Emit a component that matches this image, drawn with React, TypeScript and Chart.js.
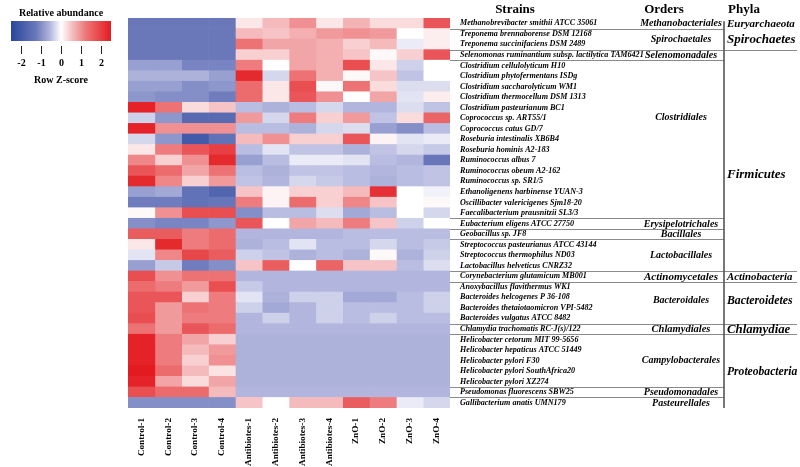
import React, { useEffect, useRef } from "react";
import { Chart, registerables } from "chart.js";
Chart.register(...registerables);

const columns = [
  "Control-1", "Control-2", "Control-3", "Control-4",
  "Antibiotes-1", "Antibiotes-2", "Antibiotes-3", "Antibiotes-4",
  "ZnO-1", "ZnO-2", "ZnO-3", "ZnO-4",
];

const strains = [
  "Methanobrevibacter smithii ATCC 35061",
  "Treponema brennaborense DSM 12168",
  "Treponema succinifaciens DSM 2489",
  "Selenomonas ruminantium subsp. lactilytica TAM6421",
  "Clostridium cellulolyticum H10",
  "Clostridium phytofermentans ISDg",
  "Clostridium saccharolyticum WM1",
  "Clostridium thermocellum DSM 1313",
  "Clostridium pasteurianum BC1",
  "Coprococcus sp. ART55/1",
  "Coprococcus catus GD/7",
  "Roseburia intestinalis XB6B4",
  "Roseburia hominis A2-183",
  "Ruminococcus albus 7",
  "Ruminococcus obeum A2-162",
  "Ruminococcus sp. SR1/5",
  "Ethanoligenens harbinense YUAN-3",
  "Oscillibacter valericigenes Sjm18-20",
  "Faecalibacterium prausnitzii SL3/3",
  "Eubacterium eligens ATCC 27750",
  "Geobacillus sp. JF8",
  "Streptococcus pasteurianus ATCC 43144",
  "Streptococcus thermophilus ND03",
  "Lactobacillus helveticus CNRZ32",
  "Corynebacterium glutamicum MB001",
  "Anoxybacillus flavithermus WK1",
  "Bacteroides helcogenes P 36-108",
  "Bacteroides thetaiotaomicron VPI-5482",
  "Bacteroides vulgatus ATCC 8482",
  "Chlamydia trachomatis RC-J(s)/122",
  "Helicobacter cetorum MIT 99-5656",
  "Helicobacter hepaticus ATCC 51449",
  "Helicobacter pylori F30",
  "Helicobacter pylori SouthAfrica20",
  "Helicobacter pylori XZ274",
  "Pseudomonas fluorescens SBW25",
  "Gallibacterium anatis UMN179",
];

// Row Z-scores, one row per strain, 4 replicates per group
const zControl = [
  [-1.25, -1.25, -1.25, -1.25],
  [-1.25, -1.25, -1.25, -1.25],
  [-1.25, -1.25, -1.25, -1.25],
  [-1.25, -1.25, -1.25, -1.25],
  [-0.8, -0.8, -1.1, -1.1],
  [-0.6, -0.6, -0.6, -0.8],
  [-0.8, -0.8, -1.0, -0.9],
  [-0.9, -1.0, -1.0, -1.2],
  [2.4, 1.3, 0.3, 0.5],
  [-0.35, -0.9, -1.6, -1.6],
  [2.4, 1.0, 1.0, 1.0],
  [-0.3, -0.9, -2.0, -1.4],
  [0.2, 1.2, 1.7, 2.0],
  [1.1, 0.4, 1.0, 2.3],
  [1.7, 1.4, 0.8, 1.3],
  [2.3, 1.1, 0.4, 0.9],
  [-0.8, -0.7, -1.4, -1.7],
  [-1.2, -1.2, -1.4, -1.3],
  [0.05, 1.0, 1.8, 1.8],
  [-1.0, -1.1, -1.1, -0.9],
  [1.6, 1.6, 1.2, 1.4],
  [0.2, 2.3, 1.2, 1.4],
  [-0.2, 1.1, 1.9, 1.6],
  [-0.8, -0.4, -1.2, -1.0],
  [1.8, 1.0, 1.3, 1.3],
  [1.4, 1.2, 0.9, 1.8],
  [1.7, 1.7, 0.4, 1.2],
  [1.7, 0.9, 1.3, 1.2],
  [1.8, 0.9, 1.2, 1.2],
  [1.3, 0.9, 1.7, 1.4],
  [2.4, 1.2, 0.8, 0.4],
  [2.4, 1.2, 0.6, 0.9],
  [2.4, 1.2, 0.4, 1.0],
  [2.5, 1.4, 0.6, 0.25],
  [2.4, 0.8, 0.3, 0.8],
  [1.8, 1.4, 1.4, 0.6],
  [-1.0, -1.0, -1.0, -1.0],
];

const zAntibiotics = [
  [0.2, 0.6, 1.0, 0.2],
  [0.6, 0.5, 0.7, 0.9],
  [1.3, 0.8, 0.8, 0.7],
  [0.4, 0.4, 0.8, 0.7],
  [1.2, 0.0, 0.8, 0.7],
  [2.3, -0.3, 1.3, 0.7],
  [1.4, 0.2, 1.8, 0.05],
  [1.4, 0.2, 1.7, 1.0],
  [-0.5, -0.6, -0.5, -0.3],
  [0.9, -0.3, 1.2, 0.4],
  [-0.5, -0.5, -0.6, -0.3],
  [0.6, 1.0, 0.4, 0.4],
  [-0.5, -0.2, -0.45, -0.45],
  [-0.8, -0.5, -0.15, -0.15],
  [-0.5, -0.6, -0.45, -0.45],
  [-0.45, -0.55, -0.3, -0.4],
  [0.5, 0.1, 0.4, 0.4],
  [1.2, 0.1, 1.4, 0.4],
  [-1.0, -0.5, -0.5, -0.25],
  [1.7, 0.0, 0.8, 0.6],
  [-0.55, -0.55, -0.55, -0.55],
  [-0.6, -0.5, -0.2, -0.5],
  [-0.35, -0.45, -0.6, -0.5],
  [0.5, 1.6, 0.0, 1.5],
  [-0.55, -0.55, -0.55, -0.55],
  [-0.4, -0.55, -0.55, -0.55],
  [-0.2, -0.6, -0.35, -0.35],
  [-0.35, -0.7, -0.55, -0.35],
  [-0.55, -0.35, -0.55, -0.35],
  [-0.55, -0.55, -0.55, -0.55],
  [-0.6, -0.6, -0.6, -0.6],
  [-0.6, -0.6, -0.6, -0.6],
  [-0.6, -0.6, -0.6, -0.6],
  [-0.6, -0.6, -0.6, -0.6],
  [-0.6, -0.6, -0.6, -0.6],
  [-0.55, -0.55, -0.55, -0.55],
  [0.5, 0.0, 0.6, 0.6],
];

const zZnO = [
  [0.65, 0.3, 0.3, 1.7],
  [1.0, 0.9, 0.0, 0.15],
  [0.4, 0.6, -0.15, 0.15],
  [0.5, 0.05, 0.4, 1.7],
  [1.8, 0.2, -0.35, 0.0],
  [0.05, 0.5, -0.45, 0.0],
  [1.3, 0.3, -0.25, -0.25],
  [0.0, 0.8, -0.2, 0.15],
  [-0.55, -0.55, -0.25, -0.45],
  [0.9, -0.45, 0.3, 1.5],
  [-0.25, -0.8, -1.0, -0.5],
  [1.7, 0.1, -0.2, -0.15],
  [-0.6, -0.45, -0.3, -0.4],
  [-0.2, -0.5, -0.55, -1.3],
  [-0.5, -0.55, -0.5, -0.45],
  [-0.5, -0.6, -0.5, -0.45],
  [0.6, 2.2, 0.0, -0.1],
  [1.1, 0.5, 0.0, 0.05],
  [-0.7, -0.5, 0.0, -0.3],
  [1.2, 0.5, -0.35, 0.0],
  [-0.5, -0.5, -0.5, -0.5],
  [-0.5, -0.3, -0.5, -0.4],
  [-0.6, 0.05, -0.6, -0.35],
  [0.5, 0.5, -0.5, -0.25],
  [-0.55, -0.55, -0.55, -0.55],
  [-0.55, -0.55, -0.55, -0.55],
  [-0.7, -0.7, -0.5, -0.35],
  [-0.5, -0.5, -0.5, -0.35],
  [-0.5, -0.35, -0.5, -0.5],
  [-0.55, -0.55, -0.55, -0.55],
  [-0.6, -0.6, -0.6, -0.6],
  [-0.6, -0.6, -0.6, -0.6],
  [-0.6, -0.6, -0.6, -0.6],
  [-0.6, -0.6, -0.6, -0.6],
  [-0.6, -0.6, -0.6, -0.6],
  [-0.55, -0.55, -0.55, -0.55],
  [1.6, 1.2, -0.15, -0.3],
];

const orderNames = [
  "Methanobacteriales", "Spirochaetales", "Selenomonadales", "Clostridiales",
  "Erysipelotrichales", "Bacillales", "Lactobacillales", "Actinomycetales",
  "Bacteroidales", "Chlamydiales", "Campylobacterales", "Pseudomonadales", "Pasteurellales",
];
const orderFirstRow = [0, 1, 3, 4, 19, 20, 21, 24, 25, 29, 30, 35, 36];
const orderLastRow = [0, 2, 3, 18, 19, 20, 23, 24, 28, 29, 34, 35, 36];

const phylaNames = [
  "Euryarchaeota", "Spirochaetes", "Firmicutes", "Actinobacteria",
  "Bacteroidetes", "Chlamydiae", "Proteobacteria",
];
const phylaFirstRow = [0, 1, 3, 24, 25, 29, 30];
const phylaLastRow = [0, 2, 23, 24, 28, 29, 36];

const legendTicks = [-2, -1, 0, 1, 2];

// ---------- styling ----------
const SERIF = '"Liberation Serif", "Times New Roman", serif';
const colorStops: [number, number[]][] = [
  [-2.5, [40, 70, 158]],
  [-1.25, [106, 120, 186]],
  [-0.55, [178, 182, 222]],
  [0, [255, 255, 255]],
  [0.5, [246, 196, 198]],
  [1.25, [237, 118, 120]],
  [2.5, [227, 27, 32]],
];
function zColor(v: number): string {
  const z = Math.max(-2.5, Math.min(2.5, v));
  for (let i = 0; i < colorStops.length - 1; i++) {
    const [a, ca] = colorStops[i];
    const [b, cb] = colorStops[i + 1];
    if (z >= a && z <= b) {
      const t = (z - a) / (b - a);
      const c = ca.map((x, k) => Math.round(x + (cb[k] - x) * t));
      return `rgb(${c[0]},${c[1]},${c[2]})`;
    }
  }
  return "rgb(255,255,255)";
}

const allRows = strains.map((_, r) => [...zControl[r], ...zAntibiotics[r], ...zZnO[r]]);

// label anchors (row index) for multi-row groups
const orderLabelAnchor: Record<string, number> = { Clostridiales: 8.9, Bacteroidales: 26.2, Campylobacterales: 31.9 };
const phylaLabelAnchor: Record<string, number> = { Firmicutes: 14.3, Bacteroidetes: 26.3, Proteobacteria: 33 };
const orderFontSize: Record<string, number> = { Actinomycetales: 11, Chlamydiales: 10.5 };
const phylaFontSize: Record<string, number> = {
  Euryarchaeota: 11, Spirochaetes: 13, Firmicutes: 13, Actinobacteria: 10.8,
  Bacteroidetes: 11.8, Chlamydiae: 12.8, Proteobacteria: 11.6,
};

const annotationPlugin = {
  id: "annotations",
  afterDraw(chart: any) {
    const ctx = chart.ctx as CanvasRenderingContext2D;
    const y = chart.scales.y;
    const area = chart.chartArea;
    const rowPix = (r: number) => y.getPixelForValue(r);
    const xHeat = area.right;
    const xDivider = 724;
    const xEnd = 797;
    ctx.save();

    // headers
    ctx.fillStyle = "#000";
    ctx.textBaseline = "middle";
    ctx.textAlign = "center";
    ctx.font = `bold 13px ${SERIF}`;
    ctx.fillText("Strains", 515, 10);
    ctx.fillText("Orders", 664, 10);
    ctx.fillText("Phyla", 744, 10);

    // order separator lines
    ctx.strokeStyle = "#8a8a8a";
    ctx.lineWidth = 1;
    for (let i = 1; i < orderFirstRow.length; i++) {
      const py = Math.round(rowPix(orderFirstRow[i] - 0.5)) + 0.5;
      ctx.beginPath();
      ctx.moveTo(xHeat, py);
      ctx.lineTo(xDivider, py);
      ctx.stroke();
    }
    // phyla separator lines
    for (let i = 2; i < phylaFirstRow.length; i++) {
      const py = Math.round(rowPix(phylaFirstRow[i] - 0.5)) + 0.5;
      ctx.beginPath();
      ctx.moveTo(xDivider, py);
      ctx.lineTo(xEnd, py);
      ctx.stroke();
    }
    // vertical divider
    ctx.strokeStyle = "#555";
    ctx.lineWidth = 1.6;
    ctx.beginPath();
    ctx.moveTo(xDivider, rowPix(-0.2));
    ctx.lineTo(xDivider, rowPix(orderLastRow[orderLastRow.length - 1] + 0.5));
    ctx.stroke();

    // order labels
    ctx.fillStyle = "#000";
    ctx.textAlign = "center";
    orderNames.forEach((name, i) => {
      const anchor = orderLabelAnchor[name] ?? (orderFirstRow[i] + orderLastRow[i]) / 2;
      const fs = orderFontSize[name] ?? 10;
      ctx.font = `italic bold ${fs}px ${SERIF}`;
      ctx.fillText(name, 681, rowPix(anchor) + 0.5);
    });
    // phyla labels
    ctx.textAlign = "left";
    phylaNames.forEach((name, i) => {
      const anchor = phylaLabelAnchor[name] ?? (phylaFirstRow[i] + phylaLastRow[i]) / 2;
      const fs = phylaFontSize[name] ?? 12;
      ctx.font = `italic bold ${fs}px ${SERIF}`;
      ctx.fillText(name, 727, rowPix(anchor) + 0.5);
    });

    // colour key
    const bx0 = 11, bx1 = 111, by0 = 21, by1 = 41;
    const toX = (v: number) => bx0 + ((v + 2.5) / 5) * (bx1 - bx0);
    const grad = ctx.createLinearGradient(bx0, 0, bx1, 0);
    colorStops.forEach(([v, c]) => grad.addColorStop((v + 2.5) / 5, `rgb(${c[0]},${c[1]},${c[2]})`));
    ctx.fillStyle = grad;
    ctx.fillRect(bx0, by0, bx1 - bx0, by1 - by0);
    ctx.fillStyle = "#000";
    ctx.textAlign = "center";
    ctx.font = `bold 10px ${SERIF}`;
    ctx.fillText("Relative abundance", 61, 13);
    ctx.strokeStyle = "#222";
    ctx.lineWidth = 1;
    legendTicks.forEach((t) => {
      const px = Math.round(toX(t)) + 0.5;
      ctx.beginPath();
      ctx.moveTo(px, 46);
      ctx.lineTo(px, 54);
      ctx.stroke();
      ctx.fillText(String(t), px, 63);
    });
    ctx.fillText("Row Z-score", 61, 80);
    ctx.restore();
  },
};

export default function App() {
  const canvasRef = useRef<HTMLCanvasElement | null>(null);

  useEffect(() => {
    if (!canvasRef.current) return;
    const datasets = columns.map((col, c) => ({
      label: col,
      data: strains.map(() => [c, c + 1] as [number, number]),
      backgroundColor: allRows.map((row) => zColor(row[c])),
      borderWidth: 0,
      barPercentage: 1,
      categoryPercentage: 1,
      grouped: false,
      xAxisID: "x",
      yAxisID: "y",
    }));

    const chart = new Chart(canvasRef.current, {
      type: "bar",
      data: { labels: strains, datasets },
      options: {
        indexAxis: "y",
        animation: false,
        responsive: false,
        devicePixelRatio: 1,
        layout: { padding: { left: 128, top: 18, right: 0, bottom: 0 } },
        plugins: { legend: { display: false }, tooltip: { enabled: false } },
        scales: {
          x: { type: "linear", min: 0, max: columns.length, display: false },
          x2: {
            type: "category",
            position: "bottom",
            labels: columns,
            offset: true,
            grid: { display: false },
            border: { display: false },
            ticks: {
              autoSkip: false,
              minRotation: 90,
              maxRotation: 90,
              padding: 2,
              color: "#000",
              font: { family: SERIF, size: 9.2, weight: "bold" },
            },
            afterFit: (scale: any) => { scale.height = 59; },
          },
          y: {
            type: "category",
            position: "right",
            grid: { display: false },
            border: { display: false },
            ticks: {
              autoSkip: false,
              padding: 2,
              color: "#000",
              font: { family: SERIF, size: 8.1, weight: "bold", style: "italic" },
            },
            afterFit: (scale: any) => { scale.width = 350; },
          },
        },
      } as any,
      plugins: [annotationPlugin],
    });
    return () => chart.destroy();
  }, []);

  return (
    <div style={{ position: "absolute", left: 0, top: 0, width: 800, height: 467, background: "#fff" }}>
      <canvas ref={canvasRef} width={800} height={467} style={{ width: 800, height: 467 }} />
    </div>
  );
}
